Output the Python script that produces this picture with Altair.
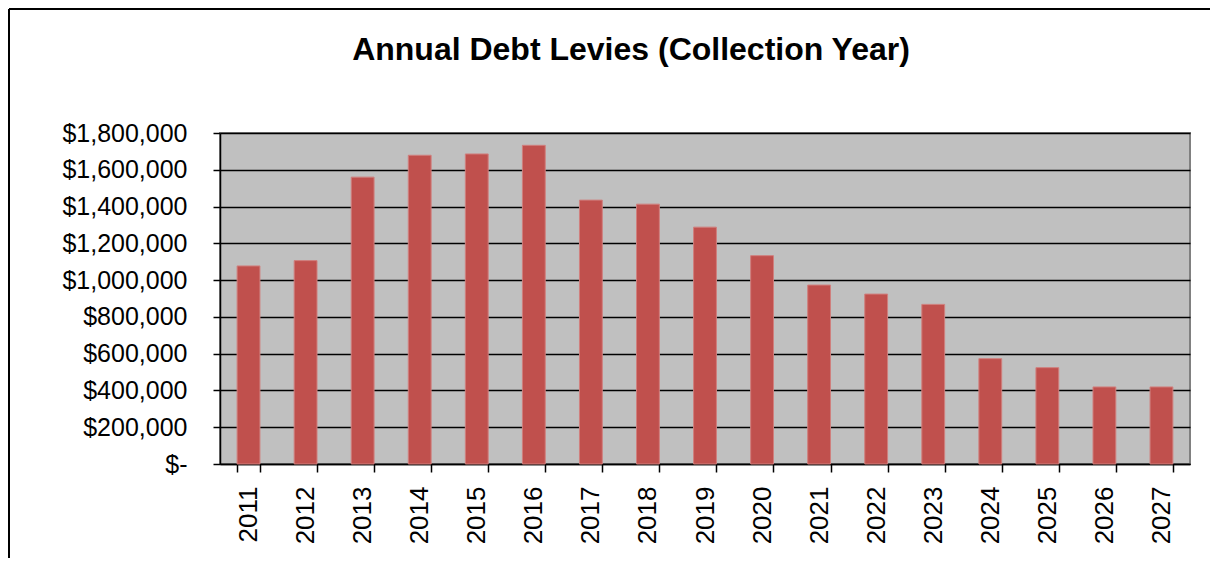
import altair as alt
import pandas as pd

years = ["2011", "2012", "2013", "2014", "2015", "2016", "2017", "2018", "2019",
         "2020", "2021", "2022", "2023", "2024", "2025", "2026", "2027"]
levies = [1077000, 1106000, 1560000, 1679000, 1686000, 1733000, 1435000, 1413000,
          1288000, 1133000, 973000, 924000, 868000, 573000, 524000, 419000, 419000]
y_ticks = [0, 200000, 400000, 600000, 800000, 1000000, 1200000, 1400000, 1600000, 1800000]
title_text = "Annual Debt Levies (Collection Year)"

df = pd.DataFrame({"year": years, "levy": levies})
FONT = "Liberation Sans"

bars = alt.Chart(df).mark_bar(
    color="#C0504D", stroke="#D07F7D", strokeWidth=1
).encode(
    x=alt.X("year:O", sort=years, title=None,
            scale=alt.Scale(paddingInner=0.6, paddingOuter=0.3),
            axis=alt.Axis(labelAngle=270, labelFontSize=26, labelFont=FONT,
                          labelColor="black", tickBand="extent", tickSize=8,
                          tickColor="black", tickWidth=1.5, domainColor="black",
                          domainWidth=1.5, labelPadding=14, grid=False)),
    y=alt.Y("levy:Q", title=None,
            scale=alt.Scale(domain=[0, 1800000], nice=False),
            axis=alt.Axis(values=y_ticks, labelFontSize=25, labelFont=FONT,
                          labelColor="black", tickSize=7, tickColor="black",
                          tickWidth=1.5, domainColor="black", domainWidth=1.5,
                          labelPadding=26, grid=True, gridColor="black",
                          gridWidth=1.3, gridOpacity=1,
                          labelExpr="datum.value == 0 ? '$-' : '$' + format(datum.value, ',.0f')"))
)

frame_df = pd.DataFrame({"k": [0]})
left_border = alt.Chart(frame_df).mark_rule(color="black", strokeWidth=2).encode(
    x=alt.value(-211), y=alt.value(-124), y2=alt.value(430))
top_border = alt.Chart(frame_df).mark_rule(color="black", strokeWidth=2).encode(
    x=alt.value(-211), x2=alt.value(990), y=alt.value(-124))

chart = alt.layer(bars, left_border, top_border).properties(
    width=970, height=331,
    title=alt.TitleParams(title_text, fontSize=32, fontWeight="bold", font=FONT,
                          color="black", anchor="middle", frame="group",
                          dx=-74, offset=-59),
    autosize=alt.AutoSizeParams(type="none"),
    padding={"left": 212, "top": 125, "right": 20, "bottom": 94},
    background="white",
).configure_view(
    fill="#C0C0C0", stroke="#808080", strokeWidth=2
)

chart.save("out.html", embed_options={"renderer": "svg", "actions": False})
